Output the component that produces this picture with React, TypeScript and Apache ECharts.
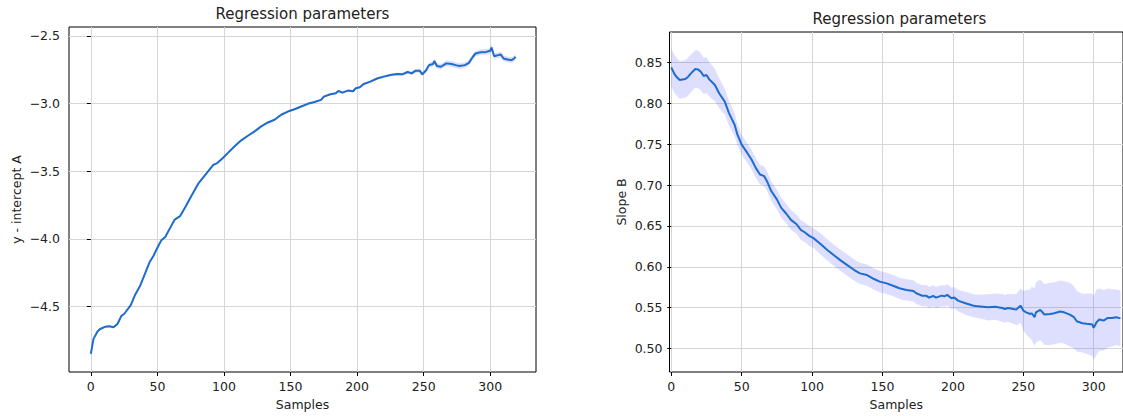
import React, { useEffect, useRef } from "react";
import * as echarts from "echarts";

// ---------- data ----------
const xTickValues = [0, 50, 100, 150, 200, 250, 300];
const interceptTickValues = [-4.5, -4.0, -3.5, -3.0, -2.5];
const slopeTickValues = [0.5, 0.55, 0.6, 0.65, 0.7, 0.75, 0.8, 0.85];

const interceptX = [
  0, 2, 5, 7, 11, 14, 17, 20, 23, 25, 30, 33, 37, 41, 44, 47, 50, 53, 56, 60,
  63, 67, 71, 76, 81, 87, 92, 95, 99, 103, 108, 113, 118, 123, 128, 133, 138,
  143, 148, 153, 158, 163, 168, 173, 175, 180, 184, 186, 189, 193, 197, 199,
  202, 205, 210, 215, 220, 225, 230, 234, 238, 241, 244, 247, 249, 252, 254,
  257, 258, 260, 263, 267, 271, 274, 277, 281, 284, 287, 289, 293, 297, 300,
  301, 303, 306, 308, 310, 313, 316, 318, 319,
];
const interceptY = [
  -4.85, -4.74, -4.686, -4.667, -4.65, -4.647, -4.654, -4.63, -4.569, -4.556,
  -4.49, -4.42, -4.348, -4.25, -4.176, -4.127, -4.066, -4.01, -3.985, -3.912,
  -3.858, -3.833, -3.765, -3.674, -3.588, -3.515, -3.453, -3.44, -3.404,
  -3.365, -3.316, -3.272, -3.238, -3.206, -3.169, -3.14, -3.12, -3.083,
  -3.059, -3.042, -3.022, -3.002, -2.988, -2.973, -2.949, -2.931, -2.924,
  -2.907, -2.919, -2.904, -2.909, -2.887, -2.88, -2.855, -2.838, -2.815,
  -2.801, -2.789, -2.782, -2.784, -2.767, -2.777, -2.757, -2.757, -2.784,
  -2.752, -2.716, -2.708, -2.686, -2.723, -2.728, -2.703, -2.708, -2.716,
  -2.723, -2.716, -2.699, -2.654, -2.63, -2.62, -2.618, -2.61, -2.586, -2.65,
  -2.642, -2.637, -2.667, -2.674, -2.679, -2.667, -2.654,
];
const interceptErr = [
  0.007, 0.007, 0.007, 0.007, 0.007, 0.007, 0.007, 0.007, 0.007, 0.007,
  0.007, 0.007, 0.007, 0.007, 0.007, 0.007, 0.007, 0.007, 0.007, 0.007,
  0.007, 0.007, 0.007, 0.007, 0.007, 0.007, 0.007, 0.007, 0.007, 0.007,
  0.007, 0.007, 0.007, 0.007, 0.007, 0.007, 0.007, 0.007, 0.007, 0.007,
  0.007, 0.007, 0.007, 0.008, 0.008, 0.008, 0.008, 0.008, 0.008, 0.008,
  0.008, 0.008, 0.009, 0.009, 0.009, 0.009, 0.01, 0.01, 0.01, 0.011,
  0.011, 0.012, 0.013, 0.014, 0.015, 0.017, 0.019, 0.021, 0.021, 0.021, 0.021,
  0.021, 0.021, 0.021, 0.021, 0.021, 0.021, 0.021, 0.021, 0.021, 0.021,
  0.021, 0.021, 0.021, 0.021, 0.021, 0.021, 0.021, 0.021, 0.021, 0.021,
];

const slopeX = [
  0, 2, 4, 6, 10, 12, 14, 17, 19, 21, 23, 25, 27, 31, 34, 38, 41, 45, 47, 50,
  54, 57, 60, 63, 66, 68, 71, 75, 78, 82, 85, 89, 92, 95, 98, 101, 106, 111,
  116, 120, 125, 130, 134, 139, 144, 148, 153, 158, 162, 167, 172, 174, 178,
  181, 183, 186, 188, 192, 194, 196, 199, 201, 204, 209, 214, 216, 221, 225,
  230, 235, 237, 239, 243, 245, 248, 250, 252, 255, 256, 258, 259, 262, 263,
  265, 269, 272, 276, 279, 283, 286, 288, 292, 295, 299, 300, 302, 304, 307,
  310, 313, 316, 319,
];
const slopeY = [
  0.844, 0.8366, 0.8318, 0.8285, 0.8297, 0.8326, 0.8366, 0.8419, 0.8415,
  0.8386, 0.8334, 0.8346, 0.8293, 0.8224, 0.8123, 0.8021, 0.788, 0.7738,
  0.7616, 0.7494, 0.7393, 0.7312, 0.721, 0.7129, 0.7109, 0.7048, 0.6927,
  0.6825, 0.6724, 0.6643, 0.6574, 0.6521, 0.6452, 0.642, 0.6379, 0.6351,
  0.628, 0.6204, 0.6135, 0.6082, 0.6021, 0.5961, 0.592, 0.59, 0.5851, 0.5819,
  0.5798, 0.5766, 0.5738, 0.5717, 0.5705, 0.5677, 0.5648, 0.5648, 0.5624,
  0.5644, 0.5624, 0.5648, 0.564, 0.5657, 0.5616, 0.5624, 0.5584, 0.5555,
  0.5527, 0.552, 0.5513, 0.5505, 0.5513, 0.5497, 0.5485, 0.5497, 0.5485,
  0.5477, 0.5526, 0.5465, 0.5444, 0.5424, 0.5432, 0.5384, 0.5444, 0.5473,
  0.5457, 0.5416, 0.5424, 0.5432, 0.5453, 0.5444, 0.5416, 0.5384, 0.5335,
  0.5311, 0.5303, 0.5294, 0.5254, 0.5323, 0.5355, 0.5343, 0.5375, 0.5375,
  0.5384, 0.537,
];
const slopeErr = [
  0.023, 0.023, 0.023, 0.023, 0.023, 0.023, 0.023, 0.023, 0.023, 0.023,
  0.022, 0.022, 0.021, 0.02, 0.018, 0.016, 0.015, 0.014, 0.013, 0.012,
  0.012, 0.012, 0.012, 0.012, 0.012, 0.012, 0.012, 0.012, 0.012, 0.012,
  0.012, 0.012, 0.012, 0.012, 0.012, 0.012, 0.013, 0.013, 0.013, 0.013,
  0.013, 0.013, 0.013, 0.013, 0.013, 0.013, 0.013, 0.013, 0.013, 0.013,
  0.013, 0.013, 0.013, 0.013, 0.013, 0.013, 0.013, 0.013, 0.013, 0.013,
  0.013, 0.013, 0.013, 0.014, 0.014, 0.014, 0.015, 0.016, 0.016, 0.017,
  0.017, 0.017, 0.018, 0.019, 0.021, 0.024, 0.027, 0.03, 0.033, 0.035,
  0.037, 0.037, 0.037, 0.037, 0.038, 0.038, 0.038, 0.038, 0.039, 0.038,
  0.037, 0.036, 0.037, 0.038, 0.039, 0.04, 0.038, 0.037, 0.036, 0.035,
  0.034, 0.034,
];

// ---------- styling ----------
const FONT = "'DejaVu Sans', sans-serif";
const TEXT = "#222222";
const LINE = "#1e6ccb";
const BAND = "rgba(60, 60, 255, 0.17)";
const GRIDLINE = "#d6d6d6";

const fmtMinus = (v: number, d: number) => v.toFixed(d).replace("-", "\u2212");

function xAxisCfg(gridIndex: number, min: number, max: number) {
  return {
    type: "value",
    gridIndex,
    min,
    max,
    name: "Samples",
    nameLocation: "middle",
    nameGap: 26,
    nameTextStyle: { fontFamily: FONT, fontSize: 12.5, color: TEXT },
    axisLine: { show: false },
    axisTick: {
      show: true,
      inside: false,
      length: 4,
      customValues: xTickValues,
      lineStyle: { color: "#000", width: 1 },
    },
    axisLabel: {
      customValues: xTickValues,
      margin: 8,
      fontFamily: FONT,
      fontSize: 12.5,
      color: TEXT,
      formatter: (v: number) => String(Math.round(v)),
    },
    splitLine: { show: true, lineStyle: { color: GRIDLINE, width: 1 } },
  };
}

function yAxisCfg(
  gridIndex: number,
  min: number,
  max: number,
  ticks: number[],
  digits: number,
  name: string,
  nameGap: number,
  margin: number
) {
  return {
    type: "value",
    gridIndex,
    min,
    max,
    name,
    nameLocation: "middle",
    nameRotate: 90,
    nameGap,
    nameTextStyle: { fontFamily: FONT, fontSize: 12.5, color: TEXT },
    axisLine: { show: false },
    axisTick: {
      show: true,
      inside: false,
      length: 4,
      customValues: ticks,
      lineStyle: { color: "#000", width: 1 },
    },
    axisLabel: {
      customValues: ticks,
      margin,
      fontFamily: FONT,
      fontSize: 12.5,
      color: TEXT,
      formatter: (v: number) => fmtMinus(v, digits),
    },
    splitLine: { show: true, lineStyle: { color: GRIDLINE, width: 1 } },
  };
}

function bandSeries(xs: number[], ys: number[], es: number[], idx: number) {
  return {
    type: "custom",
    xAxisIndex: idx,
    yAxisIndex: idx,
    data: [[xs[0], ys[0]]],
    clip: true,
    silent: true,
    z: 1,
    renderItem: (_params: any, api: any) => {
      const upper = xs.map((x, i) => api.coord([x, ys[i] + es[i]]));
      const lower = xs.map((x, i) => api.coord([x, ys[i] - es[i]])).reverse();
      return {
        type: "polygon",
        shape: { points: upper.concat(lower) },
        style: { fill: BAND, stroke: null },
      };
    },
  };
}

function lineSeries(xs: number[], ys: number[], idx: number) {
  return {
    type: "line",
    xAxisIndex: idx,
    yAxisIndex: idx,
    data: xs.map((x, i) => [x, ys[i]]),
    showSymbol: false,
    symbol: "none",
    clip: true,
    z: 3,
    lineStyle: { color: LINE, width: 2 },
  };
}

export default function App() {
  const ref = useRef<HTMLDivElement>(null);

  useEffect(() => {
    if (!ref.current) return;
    const chart = echarts.init(ref.current, undefined, { renderer: "svg" });
    chart.setOption({
      animation: false,
      backgroundColor: "#ffffff",
      grid: [
        {
          left: 69,
          top: 27,
          width: 467,
          height: 346,
          show: true,
          borderColor: "#000",
          borderWidth: 1,
          backgroundColor: "transparent",
        },
        {
          left: 669.5,
          top: 32,
          width: 460,
          height: 342,
          show: true,
          borderColor: "#000",
          borderWidth: 1,
          backgroundColor: "transparent",
        },
      ],
      xAxis: [xAxisCfg(0, -16.4, 334.4), xAxisCfg(1, -1.25, 320.8)],
      yAxis: [
        yAxisCfg(0, -4.985, -2.434, interceptTickValues, 1, "y - intercept A", 46, 9),
        yAxisCfg(1, 0.4714, 0.8872, slopeTickValues, 2, "Slope B", 42, 7),
      ],
      graphic: [
        {
          type: "text",
          x: 302.5,
          y: 14,
          style: {
            text: "Regression parameters",
            align: "center",
            verticalAlign: "middle",
            fontFamily: FONT,
            fontSize: 15,
            fill: TEXT,
          },
        },
        {
          type: "text",
          x: 899.5,
          y: 19,
          style: {
            text: "Regression parameters",
            align: "center",
            verticalAlign: "middle",
            fontFamily: FONT,
            fontSize: 15,
            fill: TEXT,
          },
        },
      ],
      series: [
        bandSeries(interceptX, interceptY, interceptErr, 0),
        lineSeries(interceptX, interceptY, 0),
        bandSeries(slopeX, slopeY, slopeErr, 1),
        lineSeries(slopeX, slopeY, 1),
      ],
    });
    return () => chart.dispose();
  }, []);

  return (
    <div
      ref={ref}
      style={{ position: "absolute", left: 0, top: 0, width: 1123, height: 416 }}
    />
  );
}
